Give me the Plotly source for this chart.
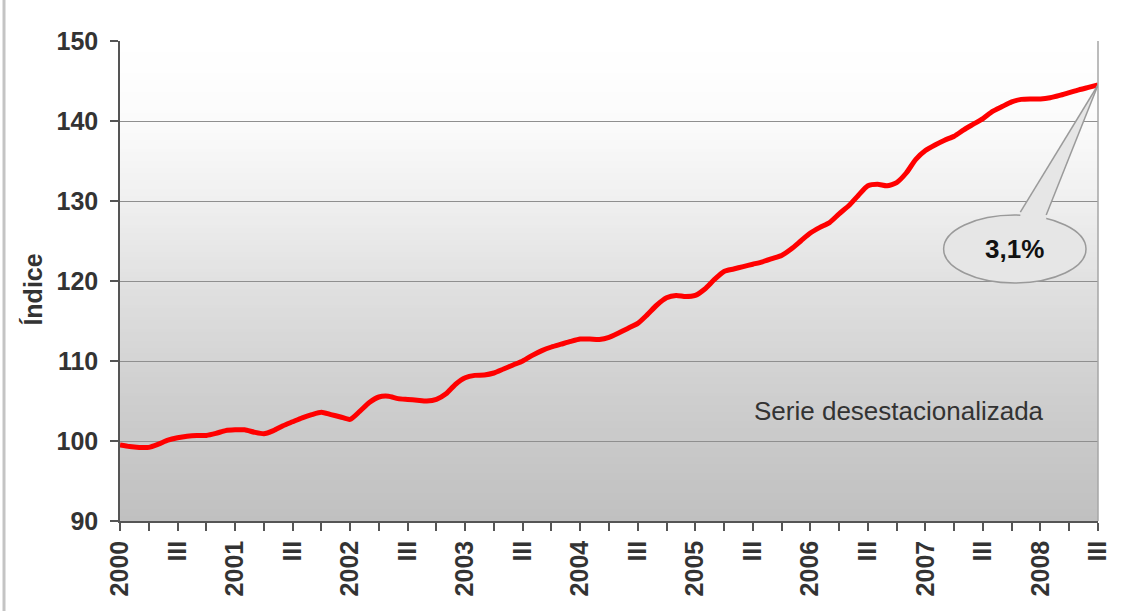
import plotly.graph_objects as go

# ---- data (monthly index, seasonally adjusted series) ----
periods = [f"{2000 + i // 12}-{i % 12 + 1:02d}" for i in range(103)]
values = [
    99.5, 99.3, 99.2, 99.2, 99.6, 100.1, 100.4, 100.6, 100.7, 100.7, 100.95, 101.3,
    101.4, 101.4, 101.1, 100.9, 101.3, 101.9, 102.4, 102.9, 103.3, 103.6, 103.3, 103.0,
    102.7, 103.7, 104.8, 105.5, 105.6, 105.3, 105.2, 105.1, 105.0, 105.2, 105.9, 107.1,
    107.9, 108.2, 108.25, 108.5, 109.0, 109.5, 110.0, 110.7, 111.3, 111.75, 112.1, 112.45,
    112.75, 112.75, 112.7, 112.95, 113.5, 114.1, 114.7, 115.8, 117.0, 117.9, 118.2, 118.05,
    118.2, 119.0, 120.2, 121.2, 121.5, 121.8, 122.1, 122.4, 122.8, 123.2, 124.0, 125.0,
    126.0, 126.7, 127.3, 128.4, 129.4, 130.7, 131.9, 132.1, 131.9, 132.3, 133.5, 135.2,
    136.3, 137.0, 137.6, 138.1, 138.9, 139.6, 140.3, 141.2, 141.8, 142.4, 142.7, 142.75,
    142.75, 142.9, 143.2, 143.55, 143.9, 144.2, 144.5,
]
years = [str(y) for y in range(2000, 2009)]
mid_label = "III"
y_ticks = [90, 100, 110, 120, 130, 140, 150]
annotation_text = "Serie desestacionalizada"
callout_text = "3,1%"
y_title = "Índice"

x = list(range(len(values)))
tickvals = list(range(0, len(values), 3))
ticktext = []
for t in tickvals:
    if t % 12 == 0:
        ticktext.append(years[t // 12])
    elif t % 12 == 6:
        ticktext.append(mid_label)
    else:
        ticktext.append("")

FONT = "Liberation Sans, Arial, sans-serif"
TXT = "#333333"

fig = go.Figure()
fig.add_trace(go.Scatter(
    x=x, y=values, mode="lines", customdata=periods,
    line=dict(color="#ff0000", width=5, shape="spline", smoothing=0.6),
    hoverinfo="skip", showlegend=False,
))

shapes = []
# vertical gradient background of plot area
stops = [(0.0, 255), (0.17, 251), (0.33, 240), (0.5, 225), (0.75, 206), (1.0, 192)]
def grey_at(f):
    for (f0, c0), (f1, c1) in zip(stops[:-1], stops[1:]):
        if f0 <= f <= f1:
            return c0 + (c1 - c0) * (f - f0) / (f1 - f0)
    return stops[-1][1]
N = 120
for i in range(N):
    f = (i + 0.5) / N
    g = int(round(grey_at(f)))
    shapes.append(dict(type="rect", xref="paper", yref="paper",
                       x0=0, x1=1, y0=1 - (i + 1) / N, y1=1 - i / N + 0.001,
                       fillcolor=f"rgb({g},{g},{g})", line=dict(width=0), layer="below"))
# right border of plot area
shapes.append(dict(type="line", xref="paper", yref="paper", x0=1, x1=1, y0=0, y1=1,
                   line=dict(color="#a6a6a6", width=1.5), layer="above"))
# left page border line
shapes.append(dict(type="line", xref="paper", yref="paper", x0=-0.1186, x1=-0.1186,
                   y0=-0.19, y1=1.09, line=dict(color="#c4c4c4", width=3)))

# callout (ellipse + wedge pointing at last point)
tip_x, tip_y = x[-1], values[-1]
ell = dict(x0=85.9, x1=100.75, y0=119.75, y1=128.25)
shapes.append(dict(type="circle", xref="x", yref="y", **ell,
                   fillcolor="#e6e6e6", line=dict(color="#9a9a9a", width=1.5), layer="above"))
wl = (93.9, 128.6)
wr = (96.6, 128.25)
shapes.append(dict(type="path", xref="x", yref="y",
                   path=f"M {wl[0]},{wl[1]-0.6} L {wl[0]},{wl[1]} L {tip_x},{tip_y} L {wr[0]},{wr[1]} L {wr[0]},{wr[1]-0.6} Z",
                   fillcolor="#e6e6e6", line=dict(width=0), layer="above"))
shapes.append(dict(type="line", xref="x", yref="y", x0=wl[0], y0=wl[1], x1=tip_x, y1=tip_y,
                   line=dict(color="#9a9a9a", width=1.5), layer="above"))
shapes.append(dict(type="line", xref="x", yref="y", x0=wr[0], y0=wr[1], x1=tip_x, y1=tip_y,
                   line=dict(color="#9a9a9a", width=1.5), layer="above"))

annotations = [
    dict(x=81.2, y=103.8, xref="x", yref="y", text=annotation_text, showarrow=False,
         font=dict(family=FONT, size=26, color=TXT)),
    dict(x=(ell["x0"] + ell["x1"]) / 2, y=(ell["y0"] + ell["y1"]) / 2, xref="x", yref="y",
         text=f"<b>{callout_text}</b>", showarrow=False,
         font=dict(family=FONT, size=26, color="#111111")),
    dict(x=-0.089, y=0.482, xref="paper", yref="paper", text=f"<b>{y_title}</b>",
         xanchor="center", yanchor="middle",
         textangle=-90, showarrow=False, font=dict(family=FONT, size=25, color=TXT)),
]

fig.update_layout(
    width=1126, height=611,
    margin=dict(l=120, r=28, t=41, b=90, pad=0),
    paper_bgcolor="white", plot_bgcolor="rgba(0,0,0,0)",
    shapes=shapes, annotations=annotations,
    xaxis=dict(range=[0, len(values) - 1], tickmode="array", tickvals=tickvals, ticktext=ticktext,
               tickangle=-90, ticks="outside", ticklen=8, tickcolor="#555555", tickwidth=1.5,
               showline=True, linecolor="#555555", linewidth=1.5, showgrid=False, zeroline=False,
               tickfont=dict(family=FONT, size=25, color=TXT, weight="bold")),
    yaxis=dict(range=[90, 150], tickmode="array", tickvals=y_ticks, ticks="outside", ticklen=8,
               tickcolor="#555555", tickwidth=1.5, showline=True, linecolor="#555555", linewidth=1.5,
               showgrid=True, gridcolor="#8f8f8f", gridwidth=1, zeroline=False,
               ticklabelstandoff=7,
               tickfont=dict(family=FONT, size=25, color=TXT, weight="bold")),
)

fig.write_html("out.html", post_script="document.body.style.margin='0';",
               config={"displayModeBar": False})
